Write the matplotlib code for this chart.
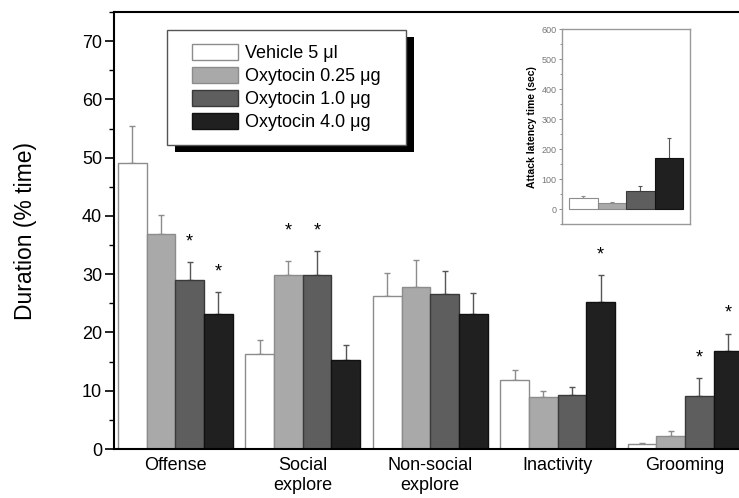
import numpy as np
import matplotlib
matplotlib.use("Agg")
import matplotlib.pyplot as plt
from matplotlib.patches import Rectangle
from matplotlib.ticker import MultipleLocator

plt.rcParams['font.family'] = ['Liberation Sans', 'DejaVu Sans']

# Data
categories = ['Offense', 'Social\nexplore', 'Non-social\nexplore', 'Inactivity', 'Grooming']
groups = ['Vehicle 5 \u03bcl', 'Oxytocin 0.25 \u03bcg', 'Oxytocin 1.0 \u03bcg', 'Oxytocin 4.0 \u03bcg']

vehicle = [49.0, 16.3, 26.3, 11.8, 0.8]
oxt_025 = [36.9, 29.8, 27.8, 8.9, 2.3]
oxt_10 = [29.0, 29.8, 26.6, 9.2, 9.1]
oxt_40 = [23.2, 15.2, 23.2, 25.2, 16.9]

vehicle_sem = [6.4, 2.4, 3.9, 1.8, 0.2]
oxt_025_sem = [3.3, 2.5, 4.7, 1.1, 0.8]
oxt_10_sem = [3.1, 4.2, 3.9, 1.5, 3.0]
oxt_40_sem = [3.7, 2.7, 3.6, 4.6, 2.9]

# significance stars (1 = marked)
vehicle_sig = [0, 0, 0, 0, 0]
oxt_025_sig = [0, 1, 0, 0, 0]
oxt_10_sig = [1, 1, 0, 0, 1]
oxt_40_sig = [1, 0, 0, 1, 1]

# inset: attack latency
latency = [37, 22, 61, 172]
latency_sem = [8, 3, 17, 66]

means = [vehicle, oxt_025, oxt_10, oxt_40]
sems = [vehicle_sem, oxt_025_sem, oxt_10_sem, oxt_40_sem]
sigs = [vehicle_sig, oxt_025_sig, oxt_10_sig, oxt_40_sig]

face = ['#ffffff', '#a9a9a9', '#5e5e5e', '#202020']
edge = ['#8c8c8c', '#8c8c8c', '#3a3a3a', '#111111']
errc = ['#8c8c8c', '#8c8c8c', '#555555', '#555555']

fig = plt.figure(figsize=(7.39, 4.98), dpi=100)
W, H = 739, 498
ax = fig.add_axes([114 / W, 49 / H, 631 / W, 437 / H])

x = np.arange(len(categories))
bw = 0.225
for j in range(4):
    pos = x - 0.45 + bw * (j + 0.5)
    m = np.array(means[j])
    s = np.array(sems[j])
    ax.bar(pos, m, width=bw, color=face[j], edgecolor=edge[j], linewidth=1.0,
           label=groups[j], zorder=2)
    ax.errorbar(pos, m, yerr=[np.zeros_like(s), s], fmt='none', ecolor=errc[j],
                elinewidth=1.0, capsize=2, capthick=1.0, zorder=1)

# asterisks
for i in range(len(categories)):
    tops = [means[j][i] + sems[j][i] for j in range(4) if sigs[j][i]]
    for j in range(4):
        if sigs[j][i]:
            top = means[j][i] + sems[j][i]
            if i == 1:
                top = max(tops)
            ax.text(x[i] - 0.45 + bw * (j + 0.5), top + 2.0, '*', ha='center',
                    va='bottom', fontsize=13)

ax.set_xlim(-0.4816, 4.47)
ax.set_ylim(0, 75)
ax.set_xticks(x)
ax.set_xticklabels(categories, fontsize=13, linespacing=1.2)
ax.tick_params(axis='x', length=0, pad=6)
ax.yaxis.set_major_locator(MultipleLocator(10))
ax.yaxis.set_minor_locator(MultipleLocator(5))
ax.tick_params(axis='y', which='major', length=6.5, width=1.2, labelsize=13, pad=2)
ax.tick_params(axis='y', which='minor', length=3.6, width=1.0)
ax.set_ylabel('Duration (% time)', fontsize=16.5)
ax.yaxis.set_label_coords(-0.122, 0.5)
for sp in ax.spines.values():
    sp.set_linewidth(1.5)
    sp.set_color('black')

# legend content without its own frame; box and shadow are drawn around it
leg = ax.legend(loc='upper left', bbox_to_anchor=(191.5 / W, 1 - 44 / H),
                bbox_transform=fig.transFigure, fontsize=13, frameon=False,
                borderpad=0, handlelength=2.6, handleheight=0.95,
                handletextpad=0.35, labelspacing=0.28, borderaxespad=0)
leg.set_zorder(6)

# inset
axi = fig.add_axes([562 / W, (H - 224.3) / H, 128 / W, 195 / H])
xi = np.arange(4)
for j in range(4):
    axi.bar(xi[j], latency[j], width=1.0, color=face[j], edgecolor=edge[j],
            linewidth=0.8, zorder=2)
    axi.errorbar(xi[j], latency[j], yerr=[[0], [latency_sem[j]]], fmt='none',
                 ecolor=errc[j], elinewidth=0.8, capsize=1.5, capthick=0.8, zorder=1)
axi.set_xlim(-0.75, 3.74)
axi.set_ylim(-50, 600)
axi.set_xticks([])
axi.yaxis.set_major_locator(MultipleLocator(100))
axi.yaxis.set_minor_locator(MultipleLocator(50))
axi.tick_params(axis='y', which='major', length=2.5, width=0.6, labelsize=6.5,
                colors='#777777', pad=1.5)
axi.tick_params(axis='y', which='minor', length=1.5, width=0.6, colors='#777777')
axi.set_ylabel('Attack latency time (sec)', fontsize=7.5, fontweight='bold', labelpad=3)
for sp in axi.spines.values():
    sp.set_color('#999999')
    sp.set_linewidth(1.0)

fig.canvas.draw()
bb = leg.get_window_extent()
px, py = 25, 14
bx, by = bb.x0 - px, bb.y0 - py
bwid, bht = bb.width + 2 * px + 1, bb.height + 2 * py
shadow = Rectangle(((bx + 8) / W, (by - 7) / H), bwid / W, bht / H,
                   transform=fig.transFigure, facecolor='black', edgecolor='none',
                   zorder=4, clip_on=False)
box = Rectangle((bx / W, by / H), bwid / W, bht / H, transform=fig.transFigure,
                facecolor='white', edgecolor='#555555', linewidth=1.0, zorder=5,
                clip_on=False)
ax.add_artist(shadow)
ax.add_artist(box)

fig.savefig('out.png', dpi=100)
